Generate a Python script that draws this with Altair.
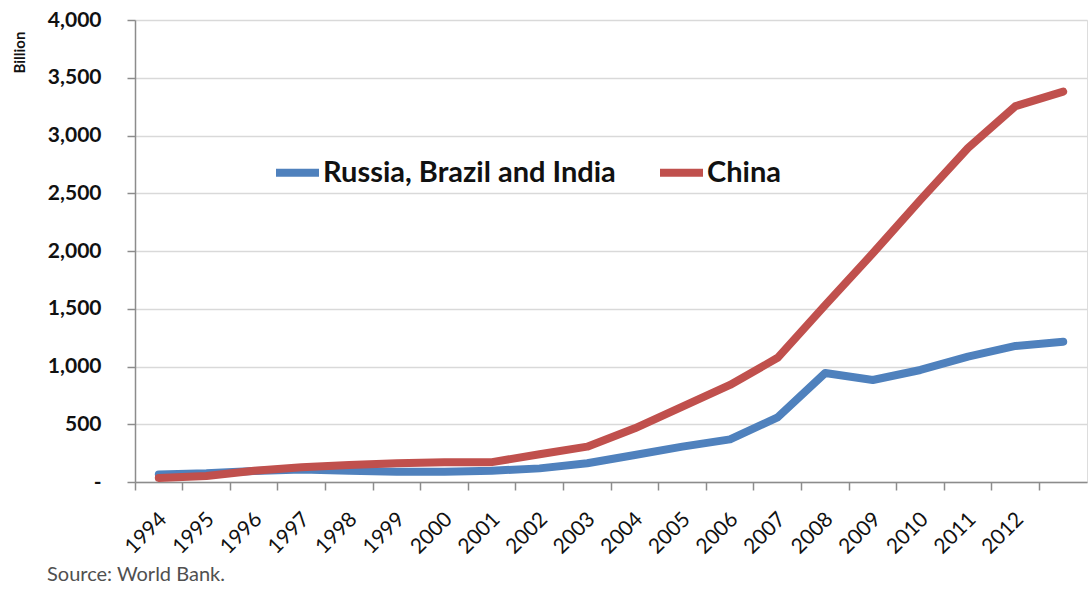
import altair as alt
import pandas as pd

# Category labels along the x axis (the final point carries no label)
years = ["1994", "1995", "1996", "1997", "1998", "1999", "2000", "2001", "2002",
         "2003", "2004", "2005", "2006", "2007", "2008", "2009", "2010", "2011",
         "2012", ""]

# Values in billions
rbi = [66, 75, 95, 108, 98, 88, 88, 98, 118, 162, 234, 306, 369, 560, 944,
       883, 970, 1085, 1178, 1215]
china = [35, 52, 98, 127, 147, 162, 172, 172, 240, 306, 465, 652, 840, 1075,
         1532, 1980, 2442, 2892, 3255, 3380]

series_names = ["Russia, Brazil and India", "China"]
series_colors = ["#4F81BD", "#C0504D"]
source_note = "Source: World Bank."

FONT = "Lato"
W, H = 952, 462

df = pd.DataFrame({
    "order": list(range(len(years))) * 2,
    "year": years * 2,
    "value": rbi + china,
    "series": [series_names[0]] * len(years) + [series_names[1]] * len(years),
})

x_enc = alt.X(
    "year:N",
    sort=years,
    bandPosition=0.5,
    scale=alt.Scale(type="band", paddingInner=0, paddingOuter=0, domain=years),
    axis=alt.Axis(
        title=None,
        bandPosition=0,
        labelAngle=-45,
        labelAlign="right",
        labelBaseline="top",
        labelOffset=-3,
        labelPadding=18,
        labelFont=FONT,
        labelFontSize=21,
        labelColor="#111111",
        labelOverlap=False,
        tickSize=8,
        tickColor="#8c8c8c",
        tickWidth=1.5,
        domainColor="#8c8c8c",
        domainWidth=1.5,
        grid=False,
    ),
)

y_enc = alt.Y(
    "value:Q",
    scale=alt.Scale(domain=[0, 4000], nice=False),
    axis=alt.Axis(
        title="Billion",
        titleFont=FONT,
        titleFontSize=15,
        titleFontWeight="bold",
        titleColor="#111111",
        titleAngle=-90,
        titleX=-116,
        titleY=32,
        titleAlign="center",
        titleBaseline="middle",
        values=list(range(0, 4001, 500)),
        labelExpr="datum.value === 0 ? '-    ' : format(datum.value, ',')",
        labelFont=FONT,
        labelFontSize=21,
        labelFontWeight="bold",
        labelColor="#111111",
        labelPadding=26,
        tickSize=8,
        tickColor="#8c8c8c",
        tickWidth=1.5,
        domainColor="#8c8c8c",
        domainWidth=1.5,
        gridColor="#d9d9d9",
        gridWidth=1.5,
    ),
)

color_enc = alt.Color(
    "series:N",
    scale=alt.Scale(domain=series_names, range=series_colors),
    legend=alt.Legend(
        title=None,
        orient="none",
        legendX=137,
        legendY=127,
        direction="horizontal",
        symbolType="stroke",
        symbolSize=1849,
        symbolStrokeWidth=8,
        labelFont=FONT,
        labelFontSize=29,
        labelFontWeight="bold",
        labelColor="#111111",
        labelOffset=0,
        columnPadding=28,
        labelLimit=500,
    ),
)

base = alt.Chart(df)

line_rbi = base.transform_filter(
    alt.datum.series == series_names[0]
).mark_line(strokeWidth=8, strokeCap="round", strokeJoin="round").encode(
    x=x_enc, y=y_enc, color=color_enc, order="order:Q"
)

line_china = base.transform_filter(
    alt.datum.series == series_names[1]
).mark_line(strokeWidth=8, strokeCap="round", strokeJoin="round").encode(
    x=x_enc, y=y_enc, color=color_enc, order="order:Q"
)

note = alt.Chart(pd.DataFrame({"t": [source_note]})).mark_text(
    align="left", baseline="middle", font=FONT, fontSize=20, color="#505050"
).encode(text="t:N", x=alt.value(-88), y=alt.value(555))

chart = alt.layer(line_rbi, line_china, note).properties(
    width=W,
    height=H,
    autosize=alt.AutoSizeParams(type="none"),
    padding={"left": 135, "top": 20, "right": 1, "bottom": 107},
).configure_view(stroke=None).configure(background="white")

chart.save("out.html", embed_options={"renderer": "svg", "actions": False})
